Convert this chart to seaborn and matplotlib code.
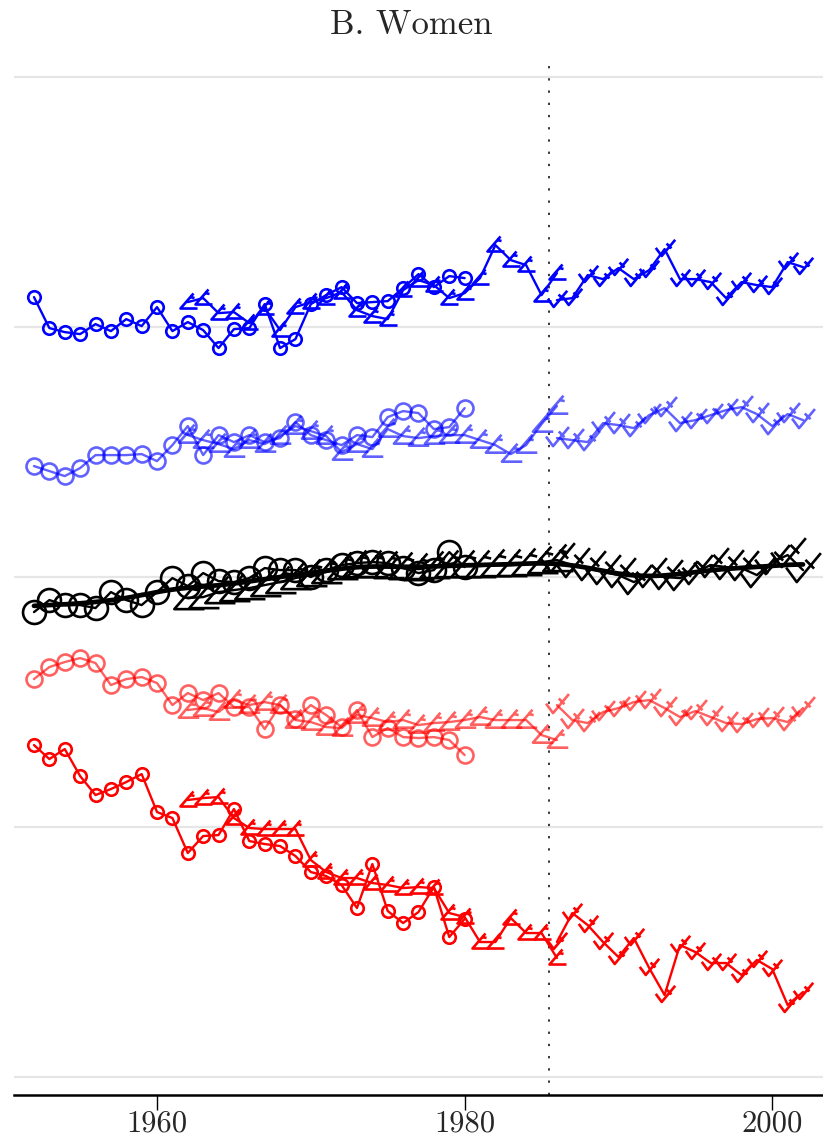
import numpy as np
import matplotlib
matplotlib.use("Agg")
import matplotlib.pyplot as plt
from matplotlib.path import Path
import seaborn as sns

# years for the three data sources
years_a = np.arange(1952, 1981)   # circles
years_b = np.arange(1962, 1987)   # angle markers
years_c = np.arange(1986, 2003)   # check markers

# dark blue
blue_a = [11.2, 9.96, 9.8, 9.72, 10.12, 9.84, 10.32, 10.04, 10.8, 9.84, 10.2, 9.88, 9.16, 9.92,
          9.96, 10.92, 9.16, 9.52, 10.92, 11.28, 11.6, 10.96, 11.0, 11.04, 11.56, 12.12, 11.6,
          12.04, 11.96]
blue_b = [11.0, 11.16, 10.56, 10.6, 10.16, 10.76, 9.88, 10.8, 11.0, 11.16, 11.4, 10.68, 10.44,
          10.32, 11.48, 11.88, 11.68, 11.16, 11.36, 11.96, 13.28, 12.68, 12.48, 11.28, 12.16]
blue_c = [11.08, 11.16, 12.08, 11.92, 12.36, 11.92, 12.28, 13.12, 11.92, 11.92, 11.8, 11.16,
          11.8, 11.68, 11.6, 12.6, 12.4]

# light blue
lblue_a = [4.44, 4.24, 4.04, 4.36, 4.88, 4.88, 4.88, 4.92, 4.64, 5.28, 6.04, 4.88, 5.68, 5.4,
           5.68, 5.4, 5.56, 6.2, 5.68, 5.48, 5.28, 5.68, 5.6, 6.4, 6.64, 6.56, 5.92, 6.0, 6.76]
lblue_b = [5.68, 5.48, 5.32, 5.12, 5.48, 5.32, 5.64, 6.04, 5.84, 5.64, 5.0, 5.32, 5.12, 5.92,
           5.64, 5.56, 5.64, 5.68, 5.68, 5.48, 5.28, 4.92, 5.28, 6.12, 6.84]
lblue_c = [5.56, 5.48, 5.4, 6.16, 6.08, 5.96, 6.48, 6.76, 6.16, 6.28, 6.48, 6.68, 6.8, 6.52,
           6.04, 6.52, 6.28]

# black (all women)
black_a = [-1.4, -0.92, -1.12, -1.12, -1.24, -0.6, -0.92, -1.12, -0.6, -0.04, -0.36, 0.16, -0.16,
           -0.2, -0.04, 0.36, 0.28, 0.28, 0.0, 0.28, 0.48, 0.56, 0.6, 0.56, 0.36, 0.16, 0.28,
           1.0, 0.4]
black_b = [-0.84, -0.8, -0.6, -0.52, -0.44, -0.32, -0.2, -0.04, 0.08, 0.2, 0.36, 0.44, 0.44,
           0.4, 0.36, 0.32, 0.4, 0.44, 0.44, 0.44, 0.48, 0.48, 0.52, 0.6, 0.68]
black_c = [0.68, 0.48, 0.36, 0.2, 0.08, -0.2, 0.08, 0.0, -0.04, 0.2, 0.48, 0.4, 0.36, 0.08,
           0.6, 0.88, 0.28]

# light red
lred_a = [-4.08, -3.6, -3.4, -3.24, -3.44, -4.32, -4.08, -4.0, -4.24, -5.12, -4.64, -4.92, -4.64,
          -5.2, -5.2, -6.08, -5.12, -5.68, -5.12, -5.52, -6.0, -5.32, -6.4, -6.04, -6.4, -6.44,
          -6.4, -6.52, -7.12]
lred_b = [-5.32, -5.24, -5.4, -4.92, -5.12, -5.0, -5.12, -5.72, -5.8, -6.0, -6.04, -5.52, -5.64,
          -5.8, -5.72, -5.92, -5.84, -5.8, -5.72, -5.6, -5.72, -5.72, -5.72, -6.32, -6.52]
lred_c = [-5.12, -5.72, -5.84, -5.4, -5.24, -5.0, -4.92, -5.24, -5.6, -5.36, -5.6, -5.84, -5.88,
          -5.68, -5.64, -5.8, -5.24]

# red
red_a = [-6.72, -7.28, -6.88, -7.96, -8.72, -8.48, -8.2, -7.88, -9.4, -9.64, -11.04, -10.36,
         -10.32, -9.28, -10.56, -10.68, -10.76, -11.16, -11.8, -11.96, -12.32, -13.24, -11.48,
         -13.36, -13.84, -13.4, -12.4, -14.4, -13.68]
red_b = [-8.92, -8.84, -8.8, -9.64, -10.04, -10.08, -10.08, -10.08, -11.32, -11.8, -12.04,
         -12.04, -12.24, -12.32, -12.44, -12.4, -12.44, -13.44, -13.6, -14.6, -14.6, -13.64,
         -14.24, -14.24, -15.24]
red_c = [-14.6, -13.44, -13.92, -14.6, -15.2, -14.44, -15.64, -16.72, -14.72, -15.0, -15.44,
         -15.44, -15.92, -15.32, -15.68, -17.12, -16.6]

tick_years = [1960, 1980, 2000]
tick_labels = ["1960", "1980", "2000"]
break_year = 1985.5

# custom marker shapes
M, L = Path.MOVETO, Path.LINETO
angle_mk = Path([(0.9, -0.6), (-0.8, -0.6), (0.5, 0.9), (0.15, 0.55), (0.6, 0.45)],
                [M, L, L, M, L])
check_mk = Path([(-0.9, 0.15), (-0.35, -0.6), (0.9, 0.9), (0.1, 0.55), (0.55, 0.1)],
                [M, L, L, M, L])

sns.set_style("white")
plt.rcParams["font.family"] = ["cmr10", "DejaVu Serif"]
plt.rcParams["axes.formatter.use_mathtext"] = True

fig = plt.figure(figsize=(8.23, 11.41), dpi=100)
ax = fig.add_axes([0.017, 0.0403, 0.983, 0.907])


def draw(x, y, color, marker, ms, alpha=1.0, lw=1.7, mew=1.9, z=2):
    sns.lineplot(x=x, y=y, ax=ax, color=color, marker=marker, markersize=ms,
                 markerfacecolor="none", markeredgecolor=color, markeredgewidth=mew,
                 linewidth=lw, alpha=alpha, errorbar=None, zorder=z)


groups = [
    ("#0000ff", 1.0, 9, (blue_a, blue_b, blue_c)),
    ("#0000ff", 0.62, 11.5, (lblue_a, lblue_b, lblue_c)),
    ("#ff0000", 0.62, 11.5, (lred_a, lred_b, lred_c)),
    ("#ff0000", 1.0, 9, (red_a, red_b, red_c)),
]
for color, alpha, ms, (ya, yb, yc) in groups:
    draw(years_a, ya, color, "o", ms, alpha)
    draw(years_b, yb, color, angle_mk, ms + 4, alpha)
    draw(years_c, yc, color, check_mk, ms + 5, alpha)

draw(years_a, black_a, "black", "o", 16.5, z=4)
draw(years_b, black_b, "black", angle_mk, 23, z=4)
draw(years_c, black_c, "black", check_mk, 25, z=4)

# smoothed trend of all black points
bx = np.concatenate([years_a, years_b, years_c]).astype(float)
by = np.concatenate([black_a, black_b, black_c])
grid = np.linspace(1952, 2002, 201)
w = np.exp(-0.5 * ((grid[:, None] - bx[None, :]) / 2.0) ** 2)
trend = (w * by).sum(axis=1) / w.sum(axis=1)
sns.lineplot(x=grid, y=trend, ax=ax, color="black", linewidth=3.4, errorbar=None, zorder=5)

ax.axvline(break_year, color="black", linestyle=(0, (1.5, 6.5)), linewidth=1.1, zorder=1)

ax.set_xlim(1950.7, 2003.3)
ax.set_ylim(-20.72, 20.68)
ax.set_yticks([-20, -10, 0, 10, 20])
ax.set_yticklabels([])
ax.tick_params(axis="y", length=0)
ax.yaxis.grid(True, color="#e6e6e6", linewidth=1.6)
ax.xaxis.grid(False)
ax.set_axisbelow(True)
ax.set_xticks(tick_years, labels=tick_labels)
ax.tick_params(axis="x", direction="out", length=11, width=1.0, labelsize=22, pad=0,
               color="black", bottom=True)
for side in ["left", "right", "top"]:
    ax.spines[side].set_visible(False)
ax.spines["bottom"].set_linewidth(1.8)
ax.spines["bottom"].set_color("black")
ax.set_xlabel("")
ax.set_ylabel("")

fig.text(0.5, 1 - 25 / 1141, "B. Women", ha="center", va="center", fontsize=25)

fig.savefig("out.png", dpi=100)
